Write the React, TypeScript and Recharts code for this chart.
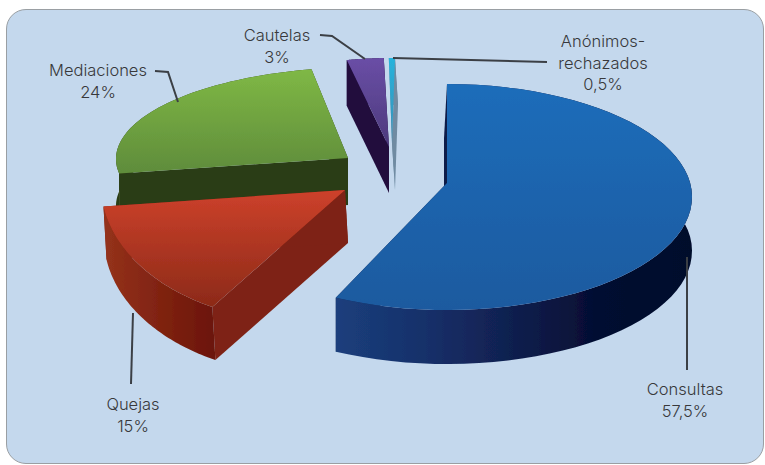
import { PieChart, Pie } from "recharts";

// drawing order, so that Quejas sits on top of Mediaciones
const categories = ["Mediaciones", "Cautelas", "Anónimos-rechazados", "Consultas", "Quejas"];
const values = [24, 3, 0.5, 57.5, 15];
const labelLines = [["Mediaciones"], ["Cautelas"], ["Anónimos-", "rechazados"], ["Consultas"], ["Quejas"]];

const tableData = categories.map((name, i) => ({ name, value: values[i], lines: labelLines[i] }));

const PIE_CX = 447;
const PIE_CY = 183;
const PIE_R = 245;

// fake 3D: tip offset (explosion), rim ellipse centre offset and radii, extrusion
const sliceLook: Record<string, any> = {
  Consultas: {
    tip: [0, 0], rim: [0, 14], rx: 245, ry: 113, depth: 54, shift: 0, cutShift: -3,
    top: ["#1e6dba", "#1f5a9f"], side: ["#1b3f7c", "#16306a", "#101f4e", "#040c30", "#030a2c"], cut: "#0c1d4a",
  },
  Quejas: {
    tip: [-102, 7], rim: [-142, 2], rx: 204, ry: 137, depth: 53, shift: 3, cutShift: 3,
    top: ["#cd412b", "#8c2a18"], side: ["#95321b", "#6b1407"], cut: "#7e2213",
  },
  Mediaciones: {
    tip: [-99, -25], rim: [-81, -24], rx: 250, ry: 92, depth: 47, shift: 0, cutShift: 0,
    top: ["#7fb845", "#5f8c3b"], side: ["#2c3e13", "#2c3e13"], cut: "#2c3e13",
  },
  Cautelas: {
    tip: [-58, -36], rim: [-57, -40], rx: 198, ry: 85, depth: 46, shift: 0, cutShift: 0,
    top: ["#6a4ea6", "#4c3a7c"], side: ["#200b3e", "#200b3e"], cut: "#200b3e",
  },
  "Anónimos-rechazados": {
    tip: [-55, -40], rim: [-52, -40], rx: 198, ry: 85, depth: 47, shift: 3, cutShift: 3,
    top: ["#27b3dc", "#3a8fb5"], side: ["#6f8ba2", "#6f8ba2"], cut: "#6f8ba2",
  },
};

const labelSpots: Record<string, any> = {
  Mediaciones: { x: 98, y: 76, leader: "M155 71 L168 72 L178 102" },
  Cautelas: { x: 277, y: 41, leader: "M320 35 L332 36 L365 59" },
  "Anónimos-rechazados": { x: 603, y: 47, leader: "M393 58 L547 62" },
  Consultas: { x: 685, y: 395, leader: "M687 257 L687 370" },
  Quejas: { x: 133, y: 410, leader: "M133 313 L131 384" },
};

const poly = (pts: number[][]) => "M" + pts.map((p) => p[0].toFixed(1) + " " + p[1].toFixed(1)).join(" L") + " Z";

const Slice = (props: any) => {
  const { cx, cy, startAngle, endAngle, name } = props;
  const look = sliceLook[name];
  const tip = [cx + look.tip[0], cy + look.tip[1]];
  const rimX = cx + look.rim[0];
  const rimY = cy + look.rim[1];
  const arc: number[][] = [];
  for (let i = 0; i <= 60; i++) {
    const a = ((startAngle + ((endAngle - startAngle) * i) / 60) * Math.PI) / 180;
    arc.push([rimX + look.rx * Math.cos(a), rimY - look.ry * Math.sin(a)]);
  }
  const down = (p: number[]) => [p[0] + look.shift, p[1] + look.depth];
  const cutDown = (p: number[]) => [p[0] + look.cutShift, p[1] + look.depth];
  const first = arc[0];
  const last = arc[arc.length - 1];
  const id = name.replace(/[^a-zA-Z]/g, "");
  const sideStops = look.side as string[];
  return (
    <g filter="url(#soft)">
      <defs>
        <linearGradient id={"top" + id} x1="0" y1="0" x2="0" y2="1">
          <stop offset="0%" stopColor={look.top[0]} />
          <stop offset="100%" stopColor={look.top[1]} />
        </linearGradient>
        <linearGradient id={"side" + id} x1="0" y1="0" x2="1" y2="0">
          {sideStops.map((c, i) => (
            <stop key={i} offset={(i / (sideStops.length - 1)) * 100 + "%"} stopColor={c} />
          ))}
        </linearGradient>
        <filter id="soft" x="-5%" y="-5%" width="110%" height="110%">
          <feGaussianBlur stdDeviation="0.6" />
        </filter>
      </defs>
      <path d={poly([first, tip, cutDown(tip), cutDown(first)])} fill={look.cut} />
      <path d={poly([last, tip, down(tip), down(last)])} fill={look.cut} />
      <path d={poly([...arc, ...arc.map(down).reverse()])} fill={`url(#side${id})`} />
      <path d={poly([...arc, tip])} fill={`url(#top${id})`} />
    </g>
  );
};

const SliceLabel = (props: any) => {
  const { name, value, payload } = props;
  const spot = labelSpots[name];
  const lines = [...(payload?.lines ?? [name]), String(value).replace(".", ",") + "%"];
  return (
    <g>
      <path d={spot.leader} fill="none" stroke="#3b3f45" strokeWidth={2} />
      <text textAnchor="middle" fontFamily="Inter, 'Liberation Sans', sans-serif" fontWeight={300} fontSize={16.5} fill="#38383b">
        {lines.map((t: string, i: number) => (
          <tspan key={i} x={spot.x} y={spot.y + i * 21.5}>
            {t}
          </tspan>
        ))}
      </text>
    </g>
  );
};

export default function App() {
  return (
    <div style={{ position: "absolute", left: 0, top: 0, width: 765, height: 465, background: "#fff", overflow: "hidden" }}>
      <div
        style={{
          position: "absolute",
          left: 6,
          top: 9,
          width: 758,
          height: 455,
          boxSizing: "border-box",
          background: "#c4d8ed",
          border: "1px solid #9a9fa3",
          borderRadius: 20,
        }}
      />
      <PieChart width={765} height={465} margin={{ top: 0, right: 0, bottom: 0, left: 0 }} style={{ position: "absolute", left: 0, top: 0 }}>
        <Pie
          data={tableData}
          dataKey="value"
          nameKey="name"
          cx={PIE_CX}
          cy={PIE_CY}
          innerRadius={0}
          outerRadius={PIE_R}
          startAngle={-171}
          endAngle={-531}
          stroke="none"
          shape={Slice}
          label={SliceLabel}
          labelLine={false}
          isAnimationActive={false}
        />
      </PieChart>
    </div>
  );
}
